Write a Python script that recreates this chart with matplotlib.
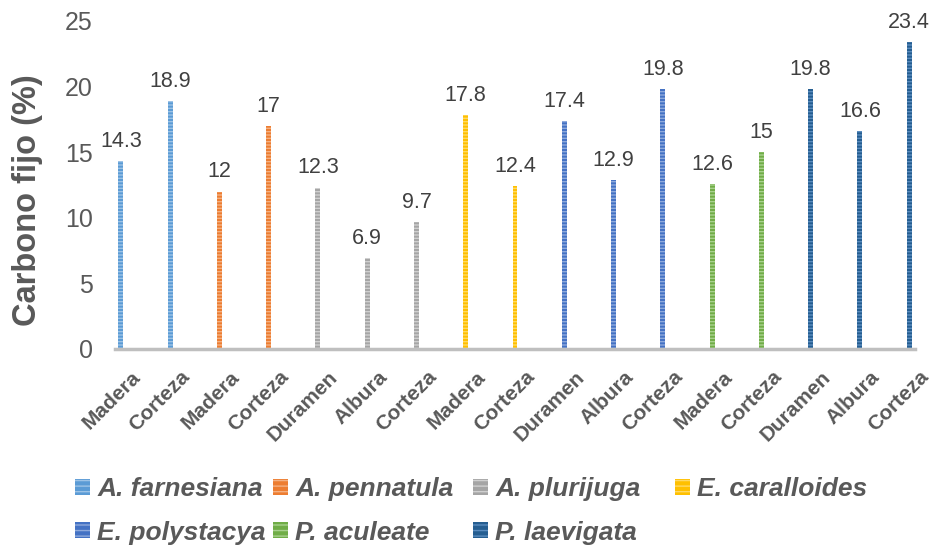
import numpy as np
import matplotlib
matplotlib.use("Agg")
import matplotlib.pyplot as plt
from matplotlib.patches import Patch
from matplotlib.transforms import ScaledTranslation

# data
species = ["A. farnesiana", "A. pennatula", "A. plurijuga", "E. caralloides",
           "E. polystacya", "P. aculeate", "P. laevigata"]
parts = [["Madera", "Corteza"], ["Madera", "Corteza"], ["Duramen", "Albura", "Corteza"],
         ["Madera", "Corteza"], ["Duramen", "Albura", "Corteza"], ["Madera", "Corteza"],
         ["Duramen", "Albura", "Corteza"]]
values = [[14.3, 18.9], [12, 17], [12.3, 6.9, 9.7], [17.8, 12.4],
          [17.4, 12.9, 19.8], [12.6, 15], [19.8, 16.6, 23.4]]
colors = ["#5B9BD5", "#ED7D31", "#A5A5A5", "#FFC000", "#4472C4", "#70AD47", "#255E91"]
stripes = ["#9DC3E6", "#F4B183", "#D0D0D0", "#FFD966", "#8FAADC", "#A9D18E", "#5B8DBF"]

plt.rcParams['font.family'] = ['Liberation Sans', 'DejaVu Sans']
plt.rcParams['hatch.linewidth'] = 1.0

fig = plt.figure(figsize=(9.34, 5.5), dpi=100)
ax = fig.add_axes([115 / 934, 201 / 550, 800 / 934, 328 / 550])

labels = []
pos = 0
for sp, prt, vals, c, sc in zip(species, parts, values, colors, stripes):
    xs = np.arange(pos, pos + len(vals))
    ax.bar(xs, vals, width=0.1, color=c, edgecolor=sc, linewidth=0, hatch='-----')
    for x, v in zip(xs, vals):
        ax.text(x, v + 0.7, f"{v:g}", ha='center', va='bottom', fontsize=15.5, color='#404040')
    labels += prt
    pos += len(vals)

ax.set_xlim(-0.12, pos - 1 + 0.12)
ax.set_ylim(0, 25)
ax.set_yticks([0, 5, 10, 15, 20, 25])
ax.tick_params(axis='y', length=0, pad=16, labelsize=18, labelcolor='#595959')
ax.set_xticks(np.arange(pos))
ax.set_xticklabels(labels, rotation=45, ha='right', va='center', rotation_mode='anchor',
                   fontsize=15, fontweight='bold', color='#595959')
ax.tick_params(axis='x', length=0, pad=18)
off = ScaledTranslation(17 / 100, 0, fig.dpi_scale_trans)
for t in ax.get_xticklabels():
    t.set_transform(t.get_transform() + off)

for s in ['top', 'right', 'left']:
    ax.spines[s].set_visible(False)
ax.spines['bottom'].set_color('#BFBFBF')
ax.spines['bottom'].set_linewidth(2.5)

ax.set_ylabel("Carbono fijo (%)", fontsize=23.5, fontweight='bold', color='#595959')
ax.yaxis.set_label_coords(-0.09, 0.454)

# one legend per column, placed like the original's fixed-width columns
col_items = [[0, 4], [1, 5], [2, 6], [3]]
col_x = [75, 273, 473, 675]
for items, lx in zip(col_items, col_x):
    handles = [Patch(facecolor=colors[i], edgecolor=stripes[i], linewidth=0, hatch='---') for i in items]
    fig.legend(handles, [species[i] for i in items], loc='upper left',
               bbox_to_anchor=(lx / 934, 1 - 477 / 550),
               frameon=False, handlelength=0.55, handleheight=0.55, handletextpad=0.3,
               labelspacing=0.74, borderaxespad=0, borderpad=0,
               prop={'size': 19, 'weight': 'bold', 'style': 'italic'}, labelcolor='#595959')

fig.savefig("out.png", dpi=100)
